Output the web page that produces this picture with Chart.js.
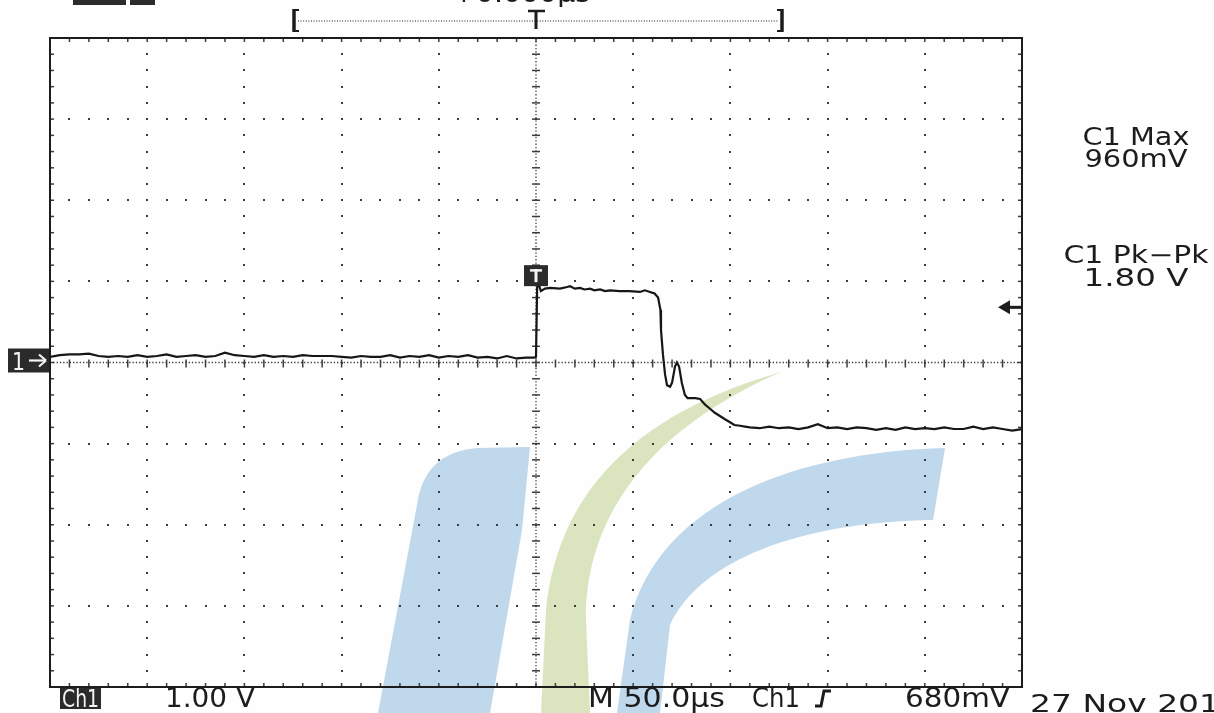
<!DOCTYPE html>
<html>
<head>
<meta charset="utf-8">
<title>Ch1 capture</title>
<script src="https://cdn.jsdelivr.net/npm/chart.js@4.4.1/dist/chart.umd.min.js"></script>
<style>
  html, body { margin: 0; padding: 0; background: #fefefe; }
  canvas { display: block; }
</style>
</head>
<body>
<canvas id="scope" width="1214" height="713"></canvas>
<script>
"use strict";

// time from trigger, µs (50 µs/div)
const timeUs = [
  -250, -245, -240, -235, -230, -225, -220, -215, -210, -205,
  -200, -195, -190, -185, -180, -175, -170, -165, -160, -155,
  -150, -145, -140, -135, -130, -125, -120, -115, -110, -105,
  -100, -95, -90, -85, -80, -75, -70, -65, -60, -55,
  -50, -45, -40, -35, -30, -25, -20, -15, -10, -5,
  -1, 0, 0.6, 1.5, 2.5, 4.6, 7.2, 12.3, 16, 17.5,
  20, 22.6, 25, 27.8, 30, 33, 35.5, 38, 43, 48,
  53.5, 56, 58.6, 61, 62.8, 64, 64.3, 65.3, 66.4, 67.4,
  69, 70, 71.5, 72.5, 73.6, 75, 76.6, 78, 82, 84.4,
  87, 89.5, 92, 94.6, 97.2, 100, 102, 105, 107.5,
  110, 115, 120, 125, 130, 135, 140, 145, 150, 155,
  160, 165, 170, 175, 180, 185, 190, 195, 200, 205,
  210, 215, 220, 225, 230, 235, 240, 245, 250
];

// channel 1, volts (1.00 V/div)
const ch1Volts = [
  0.07, 0.09, 0.10, 0.10, 0.11, 0.08, 0.07, 0.08, 0.07, 0.09,
  0.07, 0.08, 0.10, 0.07, 0.08, 0.09, 0.07, 0.08, 0.12, 0.09,
  0.08, 0.07, 0.09, 0.07, 0.08, 0.07, 0.09, 0.08, 0.08, 0.08,
  0.07, 0.06, 0.08, 0.07, 0.07, 0.09, 0.06, 0.08, 0.07, 0.09,
  0.06, 0.08, 0.07, 0.09, 0.06, 0.07, 0.05, 0.08, 0.05, 0.06,
  0.06, 0.07, 0.93, 0.96, 0.88, 0.91, 0.92, 0.91, 0.93, 0.94,
  0.91, 0.92, 0.90, 0.91, 0.89, 0.90, 0.88, 0.89, 0.88, 0.88,
  0.87, 0.89, 0.87, 0.85, 0.80, 0.65, 0.40, 0.10, -0.15, -0.28,
  -0.30, -0.25, -0.05, 0.00, -0.05, -0.25, -0.40, -0.44, -0.44, -0.45,
  -0.52, -0.57, -0.62, -0.66, -0.70, -0.74, -0.77, -0.78, -0.79,
  -0.80, -0.81, -0.79, -0.81, -0.80, -0.82, -0.80, -0.76, -0.81, -0.80,
  -0.82, -0.80, -0.81, -0.83, -0.81, -0.83, -0.80, -0.82, -0.81, -0.82,
  -0.80, -0.82, -0.82, -0.79, -0.82, -0.80, -0.82, -0.84, -0.82
];

// graticule divisions
const timeDivs = [-250, -200, -150, -100, -50, 0, 50, 100, 150, 200, 250];
const voltDivs = [-4, -3, -2, -1, 0, 1, 2, 3, 4];
const minorPerDiv = 5;

// readouts
const readoutLabels = ["C1 Max", "C1 Pk\u2212Pk"];
const readoutValues = ["960mV", "1.80 V"];
const chLabel = "Ch1";
const chScale = "1.00 V";
const timeBase = "M 50.0\u00b5s";
const trigSource = "Ch1";
const trigLevel = 0.68;
const trigLevelText = "680mV";
const dateText = "27 Nov 201";

const INK = "#1c1c1c";
const FONT = "'DejaVu Sans'";

function line(ctx, x1, y1, x2, y2) {
  ctx.beginPath();
  ctx.moveTo(x1, y1);
  ctx.lineTo(x2, y2);
  ctx.stroke();
}

// draw text squeezed/stretched to a given width
function fitText(ctx, text, x, y, width, size, align) {
  ctx.save();
  ctx.font = size + "px " + FONT;
  const w = ctx.measureText(text).width;
  const left = align === "center" ? x - width / 2 : x;
  ctx.translate(left, y);
  ctx.scale(width / w, 1);
  ctx.textAlign = "left";
  ctx.textBaseline = "alphabetic";
  ctx.fillText(text, 0, 0);
  ctx.restore();
}

function minorValues(divs) {
  const step = (divs[1] - divs[0]) / minorPerDiv;
  const out = [];
  const n = (divs.length - 1) * minorPerDiv;
  for (let i = 0; i <= n; i++) out.push(divs[0] + i * step);
  return out;
}

const watermark = {
  id: "watermark",
  beforeDatasetsDraw(chart) {
    const ctx = chart.ctx;
    ctx.save();
    ctx.fillStyle = "rgba(160, 198, 225, 0.68)";
    // left stroke
    ctx.beginPath();
    ctx.moveTo(530, 447);
    ctx.lineTo(522, 530);
    ctx.lineTo(490, 713);
    ctx.lineTo(378, 713);
    ctx.lineTo(417, 505);
    ctx.quadraticCurveTo(424, 452, 478, 448);
    ctx.closePath();
    ctx.fill();
    // right arc
    ctx.beginPath();
    ctx.moveTo(945, 448);
    ctx.bezierCurveTo(800, 452, 660, 500, 630, 620);
    ctx.lineTo(617, 713);
    ctx.lineTo(660, 713);
    ctx.lineTo(670, 625);
    ctx.bezierCurveTo(700, 560, 800, 522, 933, 520);
    ctx.closePath();
    ctx.fill();
    // green crescent
    ctx.fillStyle = "rgba(205, 220, 170, 0.75)";
    ctx.beginPath();
    ctx.moveTo(781, 372);
    ctx.bezierCurveTo(650, 410, 560, 480, 546, 610);
    ctx.lineTo(541, 713);
    ctx.lineTo(590, 713);
    ctx.lineTo(586, 620);
    ctx.bezierCurveTo(585, 540, 625, 440, 781, 372);
    ctx.closePath();
    ctx.fill();
    ctx.restore();
  }
};

const graticule = {
  id: "graticule",
  beforeDatasetsDraw(chart) {
    const ctx = chart.ctx;
    const xs = chart.scales.x;
    const ys = chart.scales.y;
    const a = chart.chartArea;
    const xMinor = minorValues(timeDivs);
    const yMinor = minorValues(voltDivs);
    const cx = xs.getPixelForValue(0);
    const cy = ys.getPixelForValue(0);

    ctx.save();
    ctx.fillStyle = "#3c3c3c";
    const dot = (px, py) => ctx.fillRect(Math.round(px) - 1, Math.round(py) - 1, 2, 2);

    timeDivs.slice(1, -1).forEach(t => {
      if (t === 0) return;
      const px = xs.getPixelForValue(t);
      yMinor.forEach(v => dot(px, ys.getPixelForValue(v)));
    });
    voltDivs.slice(1, -1).forEach(v => {
      if (v === 0) return;
      const py = ys.getPixelForValue(v);
      xMinor.forEach(t => dot(xs.getPixelForValue(t), py));
    });

    // centre cross, dense dotted with minor ticks
    ctx.strokeStyle = "#3c3c3c";
    ctx.lineWidth = 1.3;
    ctx.setLineDash([1.3, 2]);
    line(ctx, cx, a.top, cx, a.bottom);
    line(ctx, a.left, cy, a.right, cy);
    ctx.setLineDash([]);
    ctx.lineWidth = 1.5;
    yMinor.forEach(v => {
      const py = ys.getPixelForValue(v);
      line(ctx, cx - 4, py, cx + 4, py);
    });
    xMinor.forEach(t => {
      const px = xs.getPixelForValue(t);
      line(ctx, px, cy - 3, px, cy + 5);
    });

    // edge ticks
    xMinor.forEach(t => {
      const px = xs.getPixelForValue(t);
      line(ctx, px, a.top, px, a.top + 4);
      line(ctx, px, a.bottom - 4, px, a.bottom);
    });
    yMinor.forEach(v => {
      const py = ys.getPixelForValue(v);
      line(ctx, a.left, py, a.left + 4, py);
      line(ctx, a.right - 4, py, a.right, py);
    });
    ctx.restore();
  },

  afterDatasetsDraw(chart) {
    const ctx = chart.ctx;
    const xs = chart.scales.x;
    const ys = chart.scales.y;
    const a = chart.chartArea;
    const cx = xs.getPixelForValue(0);
    const cy = ys.getPixelForValue(0);

    ctx.save();
    // frame
    ctx.strokeStyle = INK;
    ctx.lineWidth = 2;
    ctx.strokeRect(a.left, a.top, a.right - a.left, a.bottom - a.top);

    ctx.fillStyle = "#2b2b2b";
    // trigger position marker
    const ty = ys.getPixelForValue(1.2);
    ctx.fillRect(cx - 12, ty, 24, 21);
    ctx.fillStyle = "#f4f4f4";
    ctx.fillRect(cx - 6, ty + 4, 12, 2.5);
    ctx.fillRect(cx - 1.5, ty + 4, 3, 13);

    // ground marker "1→"
    ctx.fillStyle = "#2b2b2b";
    ctx.fillRect(8, cy - 14, 41, 24);
    ctx.fillStyle = "#f4f4f4";
    fitText(ctx, "1", 12, cy + 7, 13, 24);
    ctx.strokeStyle = "#f4f4f4";
    ctx.lineWidth = 2.2;
    line(ctx, 29, cy - 2, 45, cy - 2);
    line(ctx, 39, cy - 8, 46, cy - 2);
    line(ctx, 39, cy + 4, 46, cy - 2);

    // trigger level arrow
    const tl = ys.getPixelForValue(trigLevel);
    ctx.strokeStyle = INK;
    ctx.fillStyle = INK;
    ctx.lineWidth = 3;
    line(ctx, 1006, tl, 1021, tl);
    ctx.beginPath();
    ctx.moveTo(998, tl);
    ctx.lineTo(1010, tl - 7);
    ctx.lineTo(1010, tl + 7);
    ctx.closePath();
    ctx.fill();

    // record bracket at top
    const bl = cx - 242, br = cx + 246;
    ctx.lineWidth = 3.5;
    line(ctx, bl, 9, bl, 32);
    line(ctx, br, 9, br, 32);
    ctx.lineWidth = 2;
    line(ctx, bl, 10, bl + 5, 10);
    line(ctx, bl, 31, bl + 5, 31);
    line(ctx, br - 5, 10, br, 10);
    line(ctx, br - 5, 31, br, 31);
    ctx.lineWidth = 1;
    ctx.setLineDash([1, 1.6]);
    line(ctx, bl + 4, 21, br - 3, 21);
    ctx.setLineDash([]);
    ctx.lineWidth = 2.5;
    line(ctx, cx - 8, 11, cx + 9, 11);
    ctx.lineWidth = 3;
    line(ctx, cx, 11, cx, 29);

    // clipped header remnants
    ctx.fillStyle = "#2b2b2b";
    ctx.fillRect(73, 0, 53, 5);
    ctx.fillRect(130, 0, 25, 5);
    ctx.fillStyle = INK;
    fitText(ctx, "+0.000\u00b5s", 452, 2, 138, 24);

    // readouts on the right
    const rx = 1136;
    fitText(ctx, readoutLabels[0], rx, 145, 107, 24, "center");
    fitText(ctx, readoutValues[0], rx, 167, 103, 24, "center");
    fitText(ctx, readoutLabels[1], rx, 263, 145, 24, "center");
    fitText(ctx, readoutValues[1], rx, 286, 105, 24, "center");

    // bottom status line
    ctx.fillStyle = "#2b2b2b";
    ctx.fillRect(60, 688, 41, 21);
    ctx.fillStyle = "#f4f4f4";
    fitText(ctx, chLabel, 62, 707, 37, 25);
    ctx.fillStyle = INK;
    fitText(ctx, chScale, 165, 707, 90, 26);
    fitText(ctx, timeBase, 588, 707, 137, 26);
    fitText(ctx, trigSource, 752, 707, 48, 26);
    fitText(ctx, trigLevelText, 905, 707, 105, 26);
    fitText(ctx, dateText, 1030, 712, 190, 25);
    // rising edge symbol
    ctx.strokeStyle = INK;
    ctx.lineWidth = 3;
    ctx.beginPath();
    ctx.moveTo(815, 706);
    ctx.lineTo(821, 706);
    ctx.lineTo(824, 691);
    ctx.lineTo(831, 691);
    ctx.stroke();
    ctx.restore();
  }
};

const ctx = document.getElementById("scope").getContext("2d");

new Chart(ctx, {
  type: "line",
  data: {
    datasets: [
      {
        label: "Ch1",
        data: timeUs.map((t, i) => ({ x: t, y: ch1Volts[i] })),
        borderColor: "#161616",
        borderWidth: 2.2,
        pointRadius: 0,
        tension: 0,
        fill: false,
      },
    ],
  },
  options: {
    responsive: false,
    animation: false,
    layout: { padding: { left: 50, top: 38, right: 192, bottom: 26 } },
    plugins: {
      legend: { display: false },
      tooltip: { enabled: false },
    },
    scales: {
      x: { type: "linear", min: -250, max: 250, display: false },
      y: { type: "linear", min: -4, max: 4, display: false },
    },
  },
  plugins: [watermark, graticule],
});
</script>
</body>
</html>
